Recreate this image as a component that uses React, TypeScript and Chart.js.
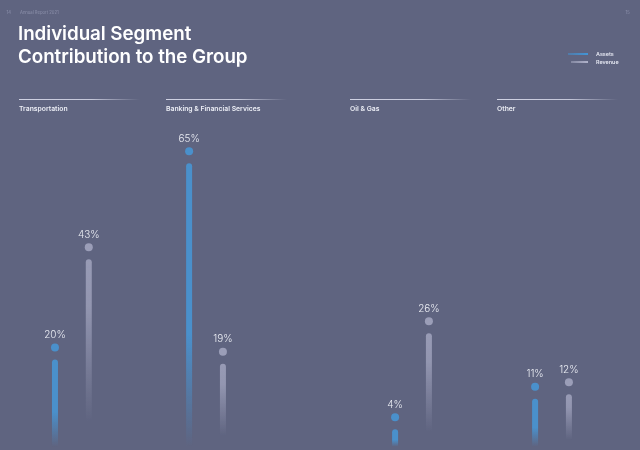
import React, { useEffect, useRef } from "react";
import { Chart, registerables } from "chart.js";

Chart.register(...registerables);

// ---- data ----
const categories = ["Transportation", "Banking & Financial Services", "Oil & Gas", "Other"];
const seriesNames = ["Assets", "Revenue"];
const assetsValues = [20, 65, 4, 11];
const revenueValues = [43, 19, 26, 12];
const pageTitle = ["Individual Segment", "Contribution to the Group"];
const pageHeader = { left: "14", report: "Annual Report 2021", right: "15" };

// ---- styles ----
const BG = "#5f6480";
const BLUE = [74, 144, 203];
const GREY = [152, 155, 181];
const FONT = "Inter, 'Noto Sans', sans-serif";

const rgba = (c: number[], a: number) => `rgba(${c[0]},${c[1]},${c[2]},${a})`;

function fadeFill(color: number[], stops: [number, number][]) {
  return (c: any) => {
    const chart = c.chart;
    const area = chart.chartArea;
    if (!area || c.type !== "data" || !chart.scales.y) return rgba(color, 1);
    const top = chart.scales.y.getPixelForValue(c.raw);
    const bottom = area.bottom;
    if (!(bottom > top)) return rgba(color, 1);
    const g = chart.ctx.createLinearGradient(0, top, 0, bottom);
    stops.forEach(([p, a]) => g.addColorStop(p, rgba(color, a)));
    return g;
  };
}

const markerPlugin = {
  id: "markers",
  afterDatasetsDraw(chart: any) {
    const ctx = chart.ctx;
    chart.data.datasets.forEach((ds: any, di: number) => {
      const meta = chart.getDatasetMeta(di);
      meta.data.forEach((bar: any, i: number) => {
        const { x, y } = bar.getProps(["x", "y"], true);
        ctx.save();
        ctx.fillStyle = ds.dotColor;
        ctx.beginPath();
        ctx.arc(x, y - 12, 4, 0, Math.PI * 2);
        ctx.fill();
        ctx.fillStyle = "#eceef4";
        ctx.font = `300 10px ${FONT}`;
        ctx.textAlign = "center";
        ctx.textBaseline = "middle";
        ctx.fillText(ds.data[i] + "%", x, y - 24.5);
        ctx.restore();
      });
    });
  },
};

function PageChart(props: {
  labels: string[];
  assets: number[];
  revenue: number[];
  padLeft: number;
  padRight: number;
  catPct: number;
}) {
  const ref = useRef<HTMLCanvasElement>(null);
  useEffect(() => {
    if (!ref.current) return;
    const chart = new Chart(ref.current, {
      type: "bar",
      data: {
        labels: props.labels,
        datasets: [
          {
            label: seriesNames[0],
            data: props.assets,
            backgroundColor: fadeFill(BLUE, [
              [0, 1],
              [0.6, 1],
              [1, 0],
            ]),
            dotColor: rgba(BLUE, 1),
            borderRadius: { topLeft: 3, topRight: 3, bottomLeft: 0, bottomRight: 0 },
            borderSkipped: "bottom",
          } as any,
          {
            label: seriesNames[1],
            data: props.revenue,
            backgroundColor: fadeFill(GREY, [
              [0, 1],
              [0.25, 0.9],
              [0.87, 0],
              [1, 0],
            ]),
            dotColor: "rgb(155,158,184)",
            borderRadius: { topLeft: 3, topRight: 3, bottomLeft: 0, bottomRight: 0 },
            borderSkipped: "bottom",
          } as any,
        ],
      },
      options: {
        responsive: false,
        maintainAspectRatio: false,
        animation: false,
        events: [],
        layout: {
          padding: { left: props.padLeft, right: props.padRight, top: 119.6, bottom: 3.3 },
        },
        datasets: {
          bar: {
            categoryPercentage: props.catPct,
            barPercentage: 0.5,
            maxBarThickness: 6,
          },
        },
        scales: {
          x: { display: false, offset: true, grid: { display: false } },
          y: { display: false, min: 0, max: 75, grid: { display: false } },
        },
        plugins: {
          legend: { display: false },
          tooltip: { enabled: false },
          title: { display: false },
        },
      },
      plugins: [markerPlugin],
    });
    return () => chart.destroy();
  }, []);
  return <canvas ref={ref} width={320} height={450} style={{ display: "block", width: 320, height: 450 }} />;
}

const columnLefts = [19, 166, 350, 497];

function ColumnHeader({ left, label }: { left: number; label: string }) {
  return (
    <div style={{ position: "absolute", left, top: 98.8, width: 121 }}>
      <div
        style={{
          height: 1.5,
          background: "linear-gradient(to right, rgba(214,216,232,0.95) 0%, rgba(214,216,232,0.85) 60%, rgba(214,216,232,0) 100%)",
        }}
      />
      <div
        style={{
          marginTop: 5,
          fontFamily: FONT,
          fontWeight: 600,
          fontSize: 6.8,
          lineHeight: "8px",
          color: "#eceef5",
          whiteSpace: "nowrap",
        }}
      >
        {label}
      </div>
    </div>
  );
}

function LegendItem({ top, color, label, lineLeft }: { top: number; color: number[]; label: string; lineLeft: number }) {
  return (
    <>
      <div
        style={{
          position: "absolute",
          left: lineLeft,
          top: top,
          width: 588 - lineLeft,
          height: 2,
          background: `linear-gradient(to right, ${rgba(color, 0.45)}, ${rgba(color, 1)})`,
        }}
      />
      <div
        style={{
          position: "absolute",
          left: 596,
          top: top - 3,
          fontFamily: FONT,
          fontWeight: 600,
          fontSize: 5.4,
          lineHeight: "8px",
          color: "#e6e8f2",
          whiteSpace: "nowrap",
        }}
      >
        {label}
      </div>
    </>
  );
}

export default function App() {
  return (
    <div
      style={{
        position: "fixed",
        left: 0,
        top: 0,
        width: 640,
        height: 450,
        background: BG,
        overflow: "hidden",
      }}
    >
      <div style={{ position: "absolute", left: 0, top: 0 }}>
        <PageChart
          labels={categories.slice(0, 2)}
          assets={assetsValues.slice(0, 2)}
          revenue={revenueValues.slice(0, 2)}
          padLeft={4.8}
          padRight={46.9}
          catPct={0.504}
        />
      </div>
      <div style={{ position: "absolute", left: 320, top: 0 }}>
        <PageChart
          labels={categories.slice(2, 4)}
          assets={assetsValues.slice(2, 4)}
          revenue={revenueValues.slice(2, 4)}
          padLeft={22}
          padRight={18}
          catPct={0.483}
        />
      </div>

      {/* page header */}
      <div style={{ position: "absolute", left: 6.5, top: 9.5, fontFamily: FONT, fontSize: 4.2, lineHeight: "5px", color: "#8d91ab" }}>
        {pageHeader.left}
      </div>
      <div style={{ position: "absolute", left: 20, top: 9.5, fontFamily: FONT, fontSize: 4.2, lineHeight: "5px", color: "#8d91ab", whiteSpace: "nowrap" }}>
        {pageHeader.report}
      </div>
      <div style={{ position: "absolute", left: 625.5, top: 9.5, fontFamily: FONT, fontSize: 4.2, lineHeight: "5px", color: "#8d91ab" }}>
        {pageHeader.right}
      </div>

      {/* title */}
      <div
        style={{
          position: "absolute",
          left: 18,
          top: 23,
          fontFamily: FONT,
          fontWeight: 600,
          fontSize: 18.8,
          lineHeight: "22.8px",
          color: "#ffffff",
          whiteSpace: "nowrap",
          letterSpacing: -0.05,
        }}
      >
        {pageTitle[0]}
        <br />
        {pageTitle[1]}
      </div>

      {/* legend */}
      <LegendItem top={53} color={[66, 150, 215]} label={seriesNames[0]} lineLeft={568} />
      <LegendItem top={61} color={[176, 179, 202]} label={seriesNames[1]} lineLeft={571} />

      {/* column headers */}
      {categories.map((c, i) => (
        <ColumnHeader key={c} left={columnLefts[i]} label={c} />
      ))}
    </div>
  );
}
